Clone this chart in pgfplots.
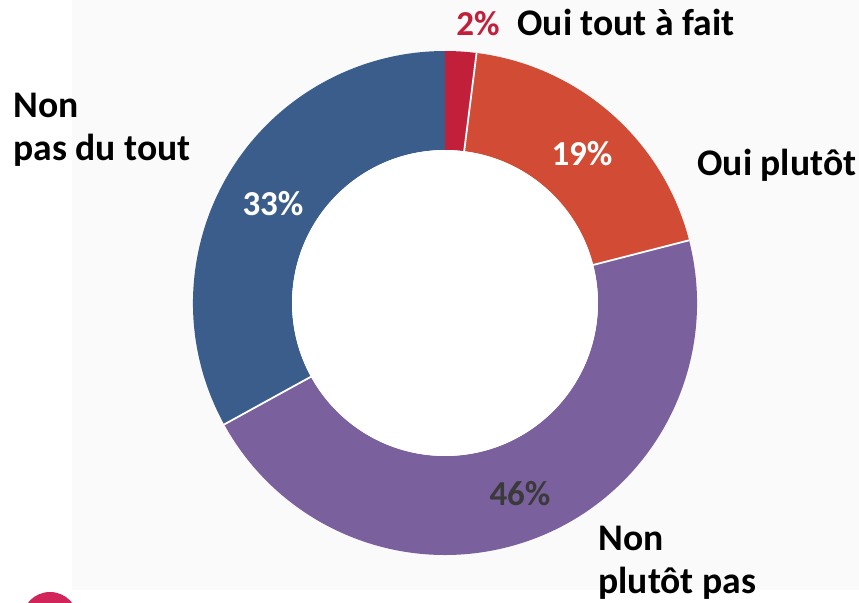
\documentclass[border=0pt]{standalone}
\usepackage{pgfplots}
\pgfplotsset{compat=1.18}
\usepackage{pgfplotstable}
\usepackage{fontspec}
\setmainfont{Carlito}
\definecolor{cRed}{HTML}{C21F3A}
\definecolor{cOrange}{HTML}{D14B35}
\definecolor{cPurple}{HTML}{7A619D}
\definecolor{cBlue}{HTML}{3A5D8C}
\definecolor{cBg}{HTML}{FAFAFA}
\definecolor{cDark}{HTML}{3A3A3A}
\definecolor{cPink}{HTML}{D0245A}
\pgfplotstableread{
label value
OuiToutAFait 2
OuiPlutot 19
NonPlutotPas 46
NonPasDuTout 33
}\donutdata
\newcommand{\lab}{\fontsize{18.8}{22}\selectfont\bfseries}
\newcommand{\pct}{\fontsize{17.5}{21}\selectfont\bfseries}
\begin{document}
\begin{tikzpicture}
\pgfplotstablegetelem{0}{value}\of\donutdata \pgfmathsetmacro{\vA}{\pgfplotsretval}
\pgfplotstablegetelem{1}{value}\of\donutdata \pgfmathsetmacro{\vB}{\pgfplotsretval}
\pgfplotstablegetelem{2}{value}\of\donutdata \pgfmathsetmacro{\vC}{\pgfplotsretval}
\pgfplotstablegetelem{3}{value}\of\donutdata \pgfmathsetmacro{\vD}{\pgfplotsretval}
\pgfmathsetmacro{\tot}{\vA+\vB+\vC+\vD}
\pgfmathsetmacro{\aA}{90}
\pgfmathsetmacro{\aB}{\aA-360*(\vA/\tot)}
\pgfmathsetmacro{\aC}{\aB-360*(\vB/\tot)}
\pgfmathsetmacro{\aD}{\aC-360*(\vC/\tot)}
\pgfmathsetmacro{\aE}{\aD-360*(\vD/\tot)}
\def\Ro{126pt}
\def\Ri{76.5pt}
\begin{axis}[
  width=429.5pt, height=301pt, scale only axis,
  xmin=0, xmax=859, ymin=0, ymax=602,
  hide axis, clip=true,
]
% background
\fill[white] (axis cs:0,0) rectangle (axis cs:859,602);
\fill[cBg] (axis cs:72,12) rectangle (axis cs:859,602);
\fill[cPink] (axis cs:50,-18) circle[radius=14pt];
% wedges
\begin{scope}[shift={(axis cs:445,299)}]
\fill[cRed] (\aA:\Ro) arc[start angle=\aA, end angle=\aB, radius=\Ro] -- (\aB:\Ri) arc[start angle=\aB, end angle=\aA, radius=\Ri] -- cycle;
\fill[cOrange] (\aB:\Ro) arc[start angle=\aB, end angle=\aC, radius=\Ro] -- (\aC:\Ri) arc[start angle=\aC, end angle=\aB, radius=\Ri] -- cycle;
\fill[cPurple] (\aC:\Ro) arc[start angle=\aC, end angle=\aD, radius=\Ro] -- (\aD:\Ri) arc[start angle=\aD, end angle=\aC, radius=\Ri] -- cycle;
\fill[cBlue] (\aD:\Ro) arc[start angle=\aD, end angle=\aE, radius=\Ro] -- (\aE:\Ri) arc[start angle=\aE, end angle=\aD, radius=\Ri] -- cycle;
\fill[white] (0,0) circle[radius=\Ri];
\draw[white, line width=0.9pt] (\aB:\Ri) -- (\aB:\Ro);
\draw[white, line width=0.9pt] (\aC:\Ri) -- (\aC:\Ro);
\draw[white, line width=0.9pt] (\aD:\Ri) -- (\aD:\Ro);
\end{scope}
% percentage labels
\node[anchor=base, inner sep=0, text=white] at (axis cs:273,387) {\pct 33\%};
\node[anchor=base, inner sep=0, text=white] at (axis cs:582,437) {\pct 19\%};
\node[anchor=base, inner sep=0, text=cDark] at (axis cs:520,97) {\pct 46\%};
\node[anchor=base west, inner sep=0, text=cRed] at (axis cs:456,567) {\pct 2\%};
% category labels
\node[anchor=base west, inner sep=0] at (axis cs:517,567) {\lab Oui tout à fait};
\node[anchor=base west, inner sep=0] at (axis cs:697,427) {\lab Oui plutôt};
\node[anchor=base west, inner sep=0] at (axis cs:13,485) {\lab Non};
\node[anchor=base west, inner sep=0] at (axis cs:13,442) {\lab pas du tout};
\node[anchor=base west, inner sep=0] at (axis cs:598,52) {\lab Non};
\node[anchor=base west, inner sep=0] at (axis cs:598,9) {\lab plutôt pas};
\end{axis}
\end{tikzpicture}
\end{document}
